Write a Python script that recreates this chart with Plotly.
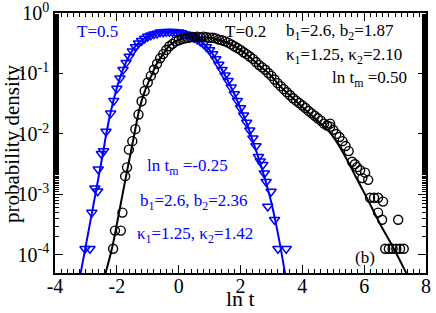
import plotly.graph_objects as go

# ---------------- data ----------------
# T = 0.2 (black circles): ln t and probability density
black_x = [-2.12, -2.06, -1.87, -1.82, -1.73, -1.67, -1.61,
           -1.5, -1.4, -1.3, -1.2, -1.1, -1.0, -0.9, -0.8, -0.7, -0.6, -0.5, -0.4, -0.3, -0.2, -0.1,
           0.0, 0.1, 0.2, 0.3, 0.4, 0.5, 0.6, 0.7, 0.8, 0.9, 1.0, 1.1, 1.2, 1.3, 1.4, 1.5, 1.6, 1.7,
           1.8, 1.9, 2.0, 2.1, 2.2, 2.3, 2.4, 2.5, 2.6, 2.7, 2.8, 2.9, 3.0, 3.1, 3.2, 3.3, 3.4, 3.5,
           3.6, 3.7, 3.8, 3.9, 4.0, 4.1, 4.2, 4.3, 4.4, 4.5, 4.6, 4.7, 4.8, 4.9, 4.9, 5.0, 5.1, 5.2,
           5.3, 5.4, 5.5, 5.61, 5.70, 5.77, 5.87, 5.94, 6.03, 6.13, 6.19, 6.32, 6.45, 6.45, 6.58,
           6.61, 7.10, 6.68, 6.80, 6.92, 7.04, 7.16, 7.28]
black_y = [1.26e-4, 2.52e-4, 2.52e-4, 5.0e-4, 2.0e-3, 2.8e-3, 5.5e-3,
           7.6e-3, 0.0120, 0.0209, 0.0347, 0.0513, 0.0708, 0.0912, 0.115, 0.145, 0.178, 0.209,
           0.245, 0.282, 0.309, 0.339,
           0.355, 0.372, 0.380, 0.389, 0.398, 0.398, 0.407, 0.398, 0.407, 0.398, 0.389, 0.389,
           0.380, 0.363, 0.355, 0.339, 0.324, 0.302,
           0.282, 0.263, 0.245, 0.224, 0.209, 0.191, 0.174, 0.155, 0.138, 0.126, 0.115, 0.102,
           0.0912, 0.0794, 0.0692, 0.0617, 0.0550, 0.0490,
           0.0437, 0.0389, 0.0355, 0.0324, 0.0295, 0.0269, 0.0240, 0.0219, 0.0200, 0.0182,
           0.0166, 0.0148, 0.0138, 0.0132, 0.0148, 0.0117, 0.0100, 8.9e-3,
           7.6e-3, 6.3e-3, 5.2e-3, 3.47e-3, 3.16e-3, 2.82e-3, 2.51e-3, 1.86e-3, 2.29e-3, 1.74e-3,
           8.8e-4, 8.8e-4, 8.8e-4, 5.0e-4, 3.8e-4,
           7.6e-4, 3.8e-4, 1.26e-4, 1.26e-4, 1.26e-4, 1.26e-4, 1.26e-4, 1.26e-4]

# T = 0.2 fit curve (black line)
black_fit_x = [-2.38, -2.16, -1.96, -1.77, -1.57, -1.44, -1.35, -1.25, -1.12, -0.99, -0.86,
               -0.70, -0.50, -0.28, -0.02, 0.27, 0.69, 1.02, 1.34, 1.66, 1.99, 2.31, 2.63,
               2.96, 3.28, 3.61, 3.93, 4.25, 4.58, 4.90, 5.32, 5.71, 6.10, 6.52, 6.94, 7.36]
black_fit_y = [4.7e-5, 1.26e-4, 4.1e-4, 1.32e-3, 4.4e-3, 9.5e-3, 0.0166, 0.0282, 0.0468,
               0.0692, 0.0977, 0.148, 0.209, 0.295, 0.355, 0.389, 0.398, 0.389, 0.355,
               0.309, 0.245, 0.186, 0.132, 0.0955, 0.0617, 0.0427, 0.0302, 0.0214, 0.0151,
               0.0105, 4.9e-3, 2.04e-3, 8.5e-4, 3.2e-4, 1.32e-4, 5.0e-5]

# T = 0.5 (blue triangles)
blue_x = [-3.03, -2.87, -2.81, -2.71, -2.62, -2.60, -2.50, -2.43, -2.35,
          -2.2, -2.1, -2.0, -1.9, -1.8, -1.7, -1.6, -1.5, -1.4, -1.3, -1.2, -1.1, -1.0, -0.9,
          -0.8, -0.7, -0.6, -0.5, -0.4, -0.3, -0.2, -0.1, 0.0, 0.1, 0.2, 0.3, 0.4, 0.5, 0.6,
          0.7, 0.8, 0.9, 1.0, 1.1, 1.2, 1.3, 1.4, 1.5, 1.6, 1.7, 1.8, 1.9, 2.0, 2.1, 2.2, 2.3,
          2.4, 2.5, 2.58, 2.64, 2.72, 2.77, 2.83, 2.88, 2.99, 3.10, 3.21, 3.48]
blue_y = [1.26e-4, 1.26e-4, 5.0e-4, 1.26e-3, 1.13e-3, 2.6e-3, 4.7e-3, 5.2e-3, 0.0110,
          0.0219, 0.0355, 0.0562, 0.0832, 0.115, 0.151, 0.191, 0.234, 0.275, 0.316, 0.347,
          0.380, 0.407, 0.427, 0.447, 0.457, 0.479, 0.479, 0.490, 0.490, 0.490, 0.479, 0.479,
          0.468, 0.447, 0.437, 0.417, 0.389, 0.363, 0.339, 0.309, 0.275, 0.245, 0.209, 0.174,
          0.141, 0.115, 0.0933, 0.0759, 0.0589, 0.0457, 0.0355, 0.0269, 0.0204, 0.0155,
          0.0115, 8.5e-3, 6.3e-3, 4.2e-3, 3.55e-3, 3.1e-3, 2.24e-3, 1.62e-3, 6.3e-4, 1.12e-3,
          3.8e-4, 1.26e-4, 1.26e-4]

# T = 0.5 fit curve (blue line)
blue_fit_x = [-3.17, -3.0, -2.8, -2.6, -2.45, -2.35, -2.2, -2.0, -1.8, -1.6, -1.4, -1.2,
              -1.0, -0.8, -0.6, -0.4, -0.2, 0.0, 0.2, 0.4, 0.6, 0.8, 1.0, 1.2, 1.4, 1.6, 1.8,
              2.0, 2.2, 2.4, 2.6, 2.8, 3.0, 3.2, 3.44]
blue_fit_y = [5.0e-5, 1.45e-4, 5.1e-4, 1.82e-3, 4.7e-3, 9.5e-3, 0.0229, 0.0575, 0.117,
              0.195, 0.282, 0.355, 0.407, 0.447, 0.479, 0.490, 0.490, 0.479, 0.457, 0.417,
              0.372, 0.316, 0.245, 0.174, 0.115, 0.0741, 0.0457, 0.0263, 0.0151, 7.6e-3,
              3.8e-3, 1.74e-3, 7.2e-4, 2.4e-4, 5.0e-5]

x_tick_vals = [-4, -2, 0, 2, 4, 6, 8]
x_tick_text = ["-4", "-2", "0", "2", "4", "6", "8"]
y_tick_vals = [1e-4, 1e-3, 1e-2, 1e-1, 1]
y_tick_text = ["10<sup>-4</sup>", "10<sup>-3</sup>", "10<sup>-2</sup>", "10<sup>-1</sup>", "10<sup>0</sup>"]

BLUE = "#0000ff"
FONT = "Liberation Serif, Times New Roman, serif"

fig = go.Figure()
fig.add_trace(go.Scatter(x=blue_fit_x, y=blue_fit_y, mode="lines", line=dict(color=BLUE, width=2, shape="spline"),
                         showlegend=False, hoverinfo="skip"))
fig.add_trace(go.Scatter(x=black_fit_x, y=black_fit_y, mode="lines", line=dict(color="black", width=2, shape="spline"),
                         showlegend=False, hoverinfo="skip"))
fig.add_trace(go.Scatter(x=blue_x, y=blue_y, mode="markers",
                         marker=dict(symbol="triangle-down-open", size=9, color=BLUE, line=dict(width=1.5, color=BLUE)),
                         showlegend=False))
fig.add_trace(go.Scatter(x=black_x, y=black_y, mode="markers",
                         marker=dict(symbol="circle-open", size=9, color="black", line=dict(width=1.4, color="black")),
                         showlegend=False))

ann_font_b = dict(family=FONT, size=17, color=BLUE)
ann_font_k = dict(family=FONT, size=17, color="black")
annotations = [
    dict(x=-3.35, y=-0.31, text="T=0.5", font=ann_font_b, xanchor="left"),
    dict(x=1.44, y=-0.30, text="T=0.2", font=ann_font_k, xanchor="left"),
    dict(x=3.41, y=-0.31, text="b<sub>1</sub>=2.6, b<sub>2</sub>=1.87", font=ann_font_k, xanchor="left"),
    dict(x=3.41, y=-0.71, text="κ<sub>1</sub>=1.25, κ<sub>2</sub>=2.10", font=ann_font_k, xanchor="left"),
    dict(x=7.46, y=-1.09, text="ln t<sub>m</sub> =0.50", font=ann_font_k, xanchor="right"),
    dict(x=-1.09, y=-2.55, text="ln t<sub>m</sub> =-0.25", font=ann_font_b, xanchor="left"),
    dict(x=-1.31, y=-3.12, text="b<sub>1</sub>=2.6, b<sub>2</sub>=2.36", font=ann_font_b, xanchor="left"),
    dict(x=-1.41, y=-3.67, text="κ<sub>1</sub>=1.25, κ<sub>2</sub>=1.42", font=ann_font_b, xanchor="left"),
    dict(x=5.64, y=-4.05, text="(b)", font=ann_font_k, xanchor="left"),
]
for a in annotations:
    a.update(xref="x", yref="y", showarrow=False, yanchor="middle")

annotations.append(dict(x=-0.116, y=0.5, xref="paper", yref="paper", text="probability density",
                        textangle=-90, showarrow=False, font=dict(family=FONT, size=21, color="black"),
                        xanchor="center", yanchor="middle"))
annotations.append(dict(x=0.5, y=-0.1538, xref="paper", yref="paper", text="ln t",
                        showarrow=False, font=dict(family=FONT, size=22, color="black"),
                        xanchor="center", yanchor="bottom"))

fig.update_layout(
    width=436, height=313,
    margin=dict(l=55, r=10, t=13, b=40, autoexpand=False),
    paper_bgcolor="white", plot_bgcolor="white",
    font=dict(family=FONT, size=20, color="black"),
    annotations=annotations,
    showlegend=False,
)
fig.update_xaxes(range=[-4, 8], tickvals=x_tick_vals, ticktext=x_tick_text, automargin=False,
                 ticks="inside", ticklen=8, tickwidth=1, tickcolor="black", ticklabelstandoff=-6,
                 ticklabeloverflow="allow",
                 minor=dict(dtick=0.2, ticks="inside", ticklen=4, tickcolor="black", showgrid=False),
                 showline=True, linecolor="black", linewidth=1.5, mirror="allticks",
                 showgrid=False, zeroline=False, tickfont=dict(family=FONT, size=20))
fig.update_yaxes(type="log", range=[-4.3, 0], tickvals=y_tick_vals, ticktext=y_tick_text, automargin=False,
                 ticks="inside", ticklen=8, tickwidth=1, tickcolor="black", ticklabeloverflow="allow",
                 minor=dict(ticks="inside", ticklen=4, tickcolor="black", showgrid=False),
                 showline=True, linecolor="black", linewidth=1.5, mirror="allticks",
                 showgrid=False, zeroline=False, tickfont=dict(family=FONT, size=20))

# remove the browser's default 8 px page margin so the figure sits at the window's corner
fig.write_html("out.html", config={"displayModeBar": False},
               post_script="document.body.style.margin='0';")
